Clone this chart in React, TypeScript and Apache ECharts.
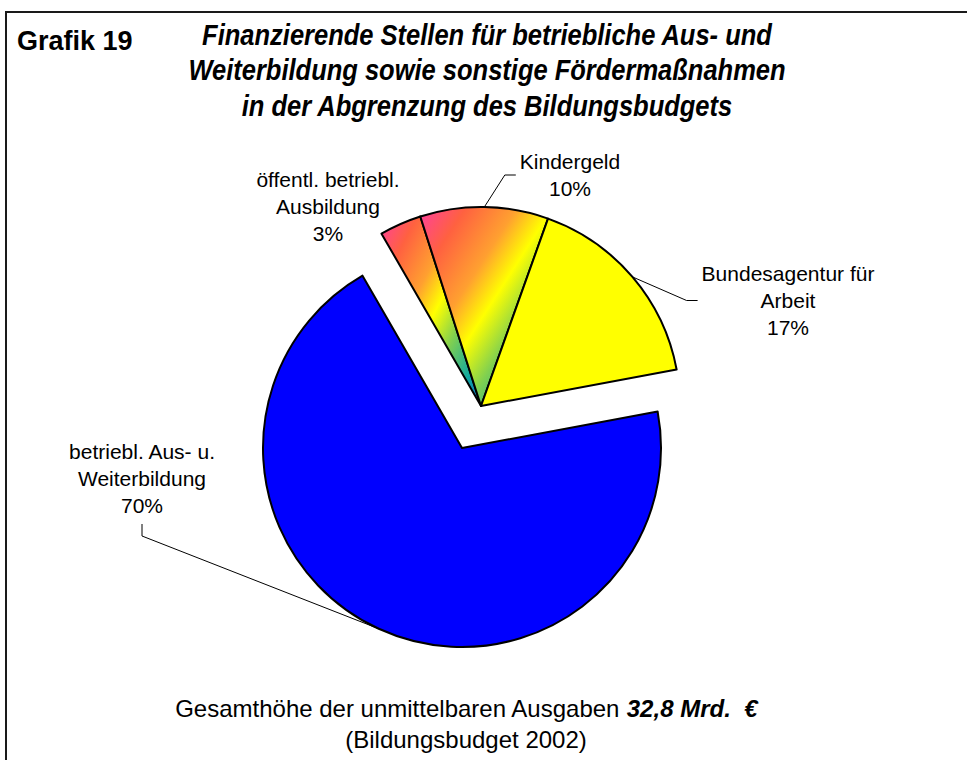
import React, { useEffect, useRef } from "react";
import * as echarts from "echarts";

// ---- data ----
const categories = [
  "öffentl. betriebl.\nAusbildung",
  "Kindergeld",
  "Bundesagentur für\nArbeit",
  "betriebl. Aus- u.\nWeiterbildung",
];
const shares = [3.4, 10.4, 16.6, 69.6];
const explodedIdx = [0, 1, 2];
const chartNo = "Grafik 19";
const titleLines = [
  "Finanzierende Stellen für betriebliche Aus- und",
  "Weiterbildung sowie sonstige Fördermaßnahmen",
  "in der Abgrenzung des Bildungsbudgets",
];
const footerText = "Gesamthöhe der unmittelbaren Ausgaben ";
const footerAmount = "32,8 Mrd.  €";
const footerLine2 = "(Bildungsbudget 2002)";

const FONT = '"Liberation Sans", Arial, Helvetica, sans-serif';

const rainbow = {
  type: "linear",
  x: 0,
  y: 0,
  x2: 1,
  y2: 1,
  colorStops: [
    { offset: 0, color: "#ff3f9f" },
    { offset: 0.18, color: "#ff6140" },
    { offset: 0.38, color: "#ffa030" },
    { offset: 0.52, color: "#ffff00" },
    { offset: 0.68, color: "#80d050" },
    { offset: 0.86, color: "#10a8a0" },
    { offset: 1, color: "#1060d0" },
  ],
};
const sliceFill = [rainbow, rainbow, "#ffff00", "#0000ff"];

// label placement (layout)
const labelSpots: Record<number, { cx: number; top: number; hook: string }> = {
  0: { cx: 328, top: 166, hook: "none" },
  1: { cx: 570, top: 148, hook: "left" },
  2: { cx: 788, top: 260, hook: "left" },
  3: { cx: 142, top: 438, hook: "bottom" },
};

function buildData(visible: number[]) {
  return categories.map((name, i) => {
    const show = visible.includes(i);
    return {
      name,
      value: shares[i],
      itemStyle: show
        ? { color: sliceFill[i], borderColor: "#000", borderWidth: 2 }
        : { color: "rgba(0,0,0,0)", borderWidth: 0 },
      label: { show },
      labelLine: { show: show && labelSpots[i].hook !== "none" },
    };
  });
}

function makeLayout(visible: number[]) {
  return (p: any) => {
    if (!visible.includes(p.dataIndex)) return {};
    const spot = labelSpots[p.dataIndex];
    const w = p.labelRect.width;
    const h = p.labelRect.height;
    const res: any = { x: spot.cx, y: spot.top, align: "center", verticalAlign: "top" };
    const a = p.labelLinePoints && p.labelLinePoints[0];
    if (a && spot.hook === "left") {
      const yMid = spot.top + h / 2;
      const xl = spot.cx - w / 2 - 4;
      res.labelLinePoints = [a, [xl - 11, yMid], [xl, yMid]];
    } else if (a && spot.hook === "bottom") {
      const yb = spot.top + h + 5;
      res.labelLinePoints = [a, [spot.cx, yb + 12], [spot.cx, yb]];
    }
    return res;
  };
}

const mainIdx = categories.map((_, i) => i).filter((i) => !explodedIdx.includes(i));

export default function App() {
  const ref = useRef<HTMLDivElement>(null);
  useEffect(() => {
    if (!ref.current) return;
    const chart = echarts.init(ref.current, undefined, { renderer: "svg" });
    const common = {
      type: "pie",
      radius: 199,
      startAngle: 120,
      clockwise: true,
      silent: true,
      avoidLabelOverlap: false,
      emphasis: { disabled: true },
      label: {
        position: "outside",
        color: "#000",
        fontFamily: FONT,
        fontSize: 21,
        lineHeight: 27,
        align: "center",
        formatter: (p: any) => `${p.name}\n${Math.round(p.percent)}%`,
      },
      labelLine: { lineStyle: { color: "#000", width: 1 }, smooth: false },
    };
    chart.setOption({
      animation: false,
      backgroundColor: "#fff",
      series: [
        {
          ...common,
          center: [462, 448],
          data: buildData(mainIdx),
          labelLayout: makeLayout(mainIdx),
        },
        {
          ...common,
          center: [481, 406],
          data: buildData(explodedIdx),
          labelLayout: makeLayout(explodedIdx),
        },
      ],
      graphic: [
        {
          type: "rect",
          silent: true,
          shape: { x: 6, y: 12, width: 1000, height: 800 },
          style: { fill: "none", stroke: "#1a1a1a", lineWidth: 2 },
        },
        {
          type: "text",
          x: 17,
          y: 41,
          style: {
            text: chartNo,
            fontFamily: FONT,
            fontSize: 27,
            fontWeight: "bold",
            fill: "#000",
            align: "left",
            verticalAlign: "middle",
          },
        },
        ...titleLines.map((t, i) => ({
          type: "text",
          x: 487,
          y: [35, 70, 106][i],
          scaleX: 0.85,
          style: {
            text: t,
            fontFamily: FONT,
            fontSize: 30,
            fontWeight: "bold",
            fontStyle: "italic",
            fill: "#000",
            align: "center",
            verticalAlign: "middle",
          },
        })),
        {
          type: "text",
          x: 466,
          y: 708,
          style: {
            text: `{n|${footerText}}{b|${footerAmount}}`,
            align: "center",
            verticalAlign: "middle",
            fill: "#000",
            rich: {
              n: { fontFamily: FONT, fontSize: 24, fill: "#000" },
              b: { fontFamily: FONT, fontSize: 24, fontWeight: "bold", fontStyle: "italic", fill: "#000" },
            },
          },
        },
        {
          type: "text",
          x: 466,
          y: 739,
          style: {
            text: footerLine2,
            fontFamily: FONT,
            fontSize: 24,
            fill: "#000",
            align: "center",
            verticalAlign: "middle",
          },
        },
      ],
    });
    return () => chart.dispose();
  }, []);
  return (
    <div
      ref={ref}
      style={{ position: "absolute", left: 0, top: 0, width: 967, height: 760, background: "#fff" }}
    />
  );
}
